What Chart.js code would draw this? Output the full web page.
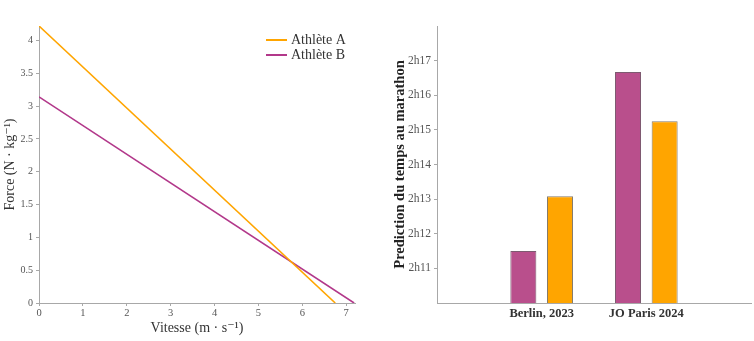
<!DOCTYPE html>
<html lang="fr">
<head>
    <meta charset="UTF-8">
    <title>Force-vitesse et prediction marathon</title>
    <script src="https://cdn.jsdelivr.net/npm/chart.js"></script>
    <style>
        body { margin: 0; background: #fff; }
        .chart-box { position: absolute; top: 0; height: 341px; }
        #leftBox { left: 0; width: 380px; }
        #rightBox { left: 380px; width: 374px; }
    </style>
</head>
<body>
    <div class="chart-box" id="leftBox"><canvas id="forceChart"></canvas></div>
    <div class="chart-box" id="rightBox"><canvas id="marathonChart"></canvas></div>

    <script>
        // Profils force-vitesse (droites)
        const vitesseA = [0, 6.75];
        const forceA = [4.22, 0];
        const vitesseB = [0, 7.18];
        const forceB = [3.14, 0];
        const athletes = ['Athlète A', 'Athlète B'];
        const vitesseTicks = [0, 1, 2, 3, 4, 5, 6, 7];
        const forceTicks = [0, 0.5, 1, 1.5, 2, 2.5, 3, 3.5, 4];

        // Prediction du temps au marathon (en minutes)
        const courses = ['', 'Berlin, 2023', 'JO Paris 2024', ''];
        const tempsB = [null, 131.5, 136.67, null];
        const tempsA = [null, 133.08, 135.25, null];
        const tickMinutes = [131, 132, 133, 134, 135, 136, 137];
        const tickLabels = ['2h11', '2h12', '2h13', '2h14', '2h15', '2h16', '2h17'];

        const orange = '#FFA500';
        const violet = '#B2388A';
        const violetBar = '#B94F8C';
        const serif = "'Liberation Serif', 'DejaVu Serif', serif";
        const axisColor = '#a8a8a8';

        Chart.defaults.font.family = serif;
        Chart.defaults.animation = false;

        function toPoints(xs, ys) {
            return xs.map((x, i) => ({ x: x, y: ys[i] }));
        }

        // small legend drawn inside the chart area, top right
        const lineLegend = {
            id: 'lineLegend',
            afterDraw(chart) {
                const ctx = chart.ctx;
                ctx.save();
                ctx.font = '14px ' + serif;
                ctx.fillStyle = '#333';
                ctx.textBaseline = 'middle';
                chart.data.datasets.forEach((ds, i) => {
                    const y = 40 + i * 15;
                    ctx.strokeStyle = ds.borderColor;
                    ctx.lineWidth = 2;
                    ctx.beginPath();
                    ctx.moveTo(266, y);
                    ctx.lineTo(287, y);
                    ctx.stroke();
                    ctx.fillText(ds.label, 291, y);
                });
                ctx.restore();
            }
        };

        new Chart(document.getElementById('forceChart'), {
            type: 'line',
            data: {
                datasets: [
                    { label: athletes[0], data: toPoints(vitesseA, forceA), borderColor: orange, borderWidth: 1.6, pointRadius: 0 },
                    { label: athletes[1], data: toPoints(vitesseB, forceB), borderColor: violet, borderWidth: 1.6, pointRadius: 0 }
                ]
            },
            options: {
                responsive: true,
                maintainAspectRatio: false,
                layout: { padding: { top: 26, right: 25, left: 0, bottom: 0 } },
                plugins: { legend: { display: false }, tooltip: { enabled: false } },
                scales: {
                    x: {
                        type: 'linear', min: 0, max: 7.2,
                        afterBuildTicks: s => { s.ticks = vitesseTicks.map(v => ({ value: v })); },
                        afterFit: s => { s.height = 38; },
                        border: { color: axisColor },
                        grid: { drawOnChartArea: false, tickLength: 3, color: axisColor },
                        ticks: { color: '#555', font: { size: 10.5 }, padding: 1, maxRotation: 0, callback: v => String(v) },
                        title: { display: true, text: 'Vitesse (m · s⁻¹)', color: '#333', font: { size: 14 }, padding: { top: 0 } }
                    },
                    y: {
                        min: 0, max: 4.22,
                        afterBuildTicks: s => { s.ticks = forceTicks.map(v => ({ value: v })); },
                        afterFit: s => { s.width = 39; },
                        border: { color: axisColor },
                        grid: { drawOnChartArea: false, tickLength: 3, color: axisColor },
                        ticks: { color: '#555', font: { size: 10 }, padding: 3, callback: v => String(v) },
                        title: { display: true, text: 'Force (N · kg⁻¹)', color: '#333', font: { size: 14 }, padding: { top: 2, bottom: 0 } }
                    }
                }
            },
            plugins: [lineLegend]
        });

        new Chart(document.getElementById('marathonChart'), {
            type: 'bar',
            data: {
                labels: courses,
                datasets: [
                    { label: athletes[1], data: tempsB, backgroundColor: violetBar, borderColor: '#7d5a70', borderWidth: 1 },
                    { label: athletes[0], data: tempsA, backgroundColor: orange, borderColor: '#857a6a', borderWidth: 1 }
                ]
            },
            options: {
                responsive: true,
                maintainAspectRatio: false,
                layout: { padding: { top: 26, right: 2, left: 0, bottom: 0 } },
                datasets: { bar: { categoryPercentage: 0.7, barPercentage: 0.71 } },
                plugins: { legend: { display: false }, tooltip: { enabled: false } },
                scales: {
                    x: {
                        offset: false,
                        afterFit: s => { s.height = 38; },
                        border: { color: axisColor },
                        grid: { drawOnChartArea: false, drawTicks: false, tickLength: 0 },
                        ticks: { color: '#333', font: { size: 12.5, weight: 'bold' }, padding: 3, maxRotation: 0, autoSkip: false }
                    },
                    y: {
                        min: 130, max: 138,
                        afterBuildTicks: s => { s.ticks = tickMinutes.map(v => ({ value: v })); },
                        afterFit: s => { s.width = 57; },
                        border: { color: axisColor },
                        grid: { drawOnChartArea: false, tickLength: 3, color: axisColor },
                        ticks: {
                            color: '#555', font: { size: 11.5 }, padding: 3,
                            callback: v => tickLabels[tickMinutes.indexOf(v)]
                        },
                        title: { display: true, text: 'Prediction du temps au marathon', color: '#222', font: { size: 14.5, weight: 'bold' }, padding: { top: 12, bottom: 0 } }
                    }
                }
            }
        });
    </script>
</body>
</html>
